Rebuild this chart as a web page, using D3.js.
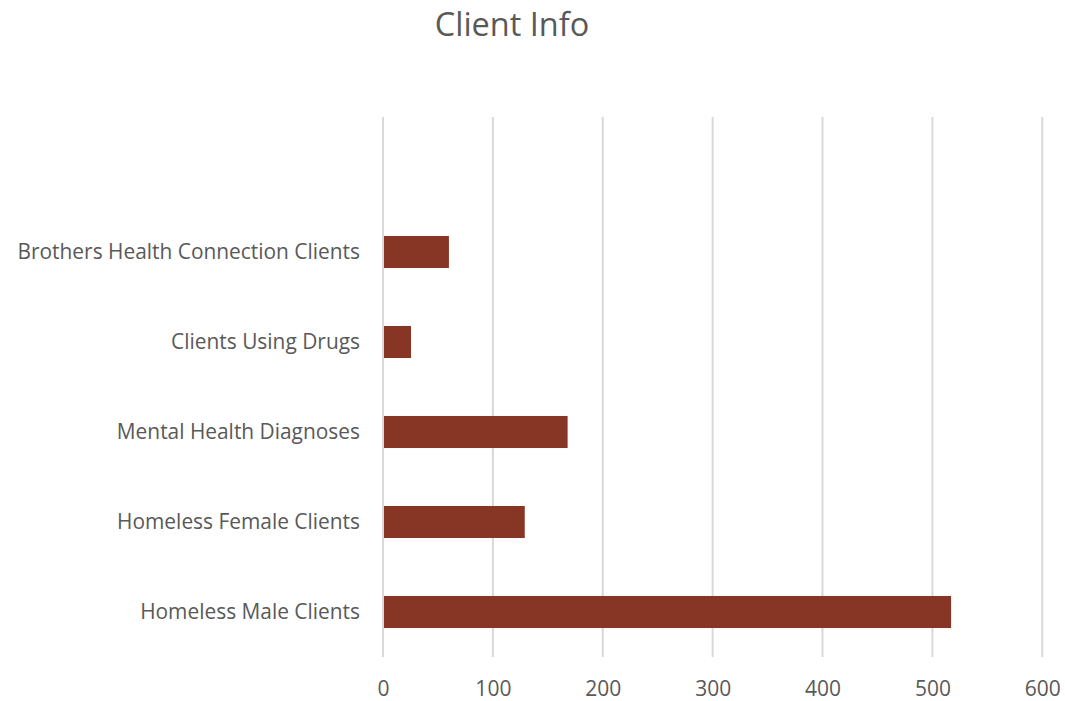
<!DOCTYPE html>
<html>
<head>
<meta charset="utf-8">
<script src="https://cdn.jsdelivr.net/npm/d3@7"></script>
<style>
	body { margin: 0; background: #fff; }
	text { font-family: "Open Sans", "Noto Sans", sans-serif; fill: #595959; }
</style>
</head>
<body>
<svg id="chart" width="1065" height="701"></svg>
<script>
// categories from bottom to top, the top slot is empty in the original
var categories = ["Homeless Male Clients", "Homeless Female Clients", "Mental Health Diagnoses", "Clients Using Drugs", "Brothers Health Connection Clients", ""];
var values = [517, 129, 168, 25.5, 60, 0];
var xTicks = [0, 100, 200, 300, 400, 500, 600];

var svg = d3.select("#chart");
var margin = { top: 117, right: 23, bottom: 44, left: 383 };
var width = 1042.3 - margin.left;
var height = 657 - margin.top;

var x = d3.scaleLinear().domain([0, 600]).range([margin.left, margin.left + width]);
var y = d3.scaleBand()
	.domain(categories)
	.range([margin.top + height, margin.top])
	.paddingInner(0.644)
	.paddingOuter(0.322);

// title
svg.append("text")
	.attr("x", 512)
	.attr("y", 36)
	.attr("text-anchor", "middle")
	.attr("font-size", 32.5)
	.text("Client Info");

// vertical gridlines
svg.append("g")
	.selectAll("line")
	.data(xTicks)
	.enter().append("line")
	.attr("x1", function(d) { return x(d); })
	.attr("x2", function(d) { return x(d); })
	.attr("y1", margin.top)
	.attr("y2", margin.top + height)
	.attr("stroke", "#d9d9d9")
	.attr("stroke-width", 2);

// bars
svg.append("g")
	.selectAll("rect")
	.data(categories.filter(function(c) { return c !== ""; }))
	.enter().append("rect")
	.attr("x", x(0) + 1)
	.attr("y", function(d) { return y(d); })
	.attr("width", function(d) { return x(values[categories.indexOf(d)]) - x(0) - 1; })
	.attr("height", y.bandwidth())
	.attr("fill", "#873626");

// x axis labels
var xAxis = d3.axisBottom(x).tickValues(xTicks).tickSize(0).tickPadding(0);
var gx = svg.append("g")
	.attr("transform", "translate(0," + (margin.top + height) + ")")
	.call(xAxis);
gx.select(".domain").remove();
gx.selectAll("text")
	.attr("font-size", 21)
	.attr("dy", null)
	.attr("y", 39)
	.style("font-family", "\"Open Sans\", sans-serif")
	.attr("fill", "#595959");

// y axis labels
var yAxis = d3.axisLeft(y).tickSize(0).tickPadding(23);
var gy = svg.append("g")
	.attr("transform", "translate(" + margin.left + ",0)")
	.call(yAxis);
gy.select(".domain").remove();
gy.selectAll("text")
	.attr("font-size", 20.9)
	.style("font-family", "\"Open Sans\", sans-serif")
	.attr("fill", "#595959");
</script>
</body>
</html>
